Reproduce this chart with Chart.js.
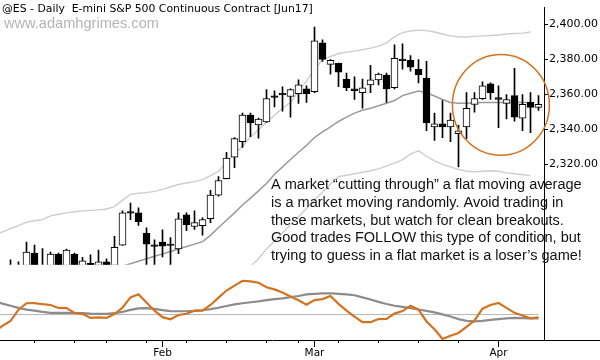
<!DOCTYPE html>
<html>
<head>
<meta charset="utf-8">
<script src="https://cdn.jsdelivr.net/npm/chart.js@4.4.1/dist/chart.umd.min.js"></script>
<style>
  html, body { margin: 0; padding: 0; background: #fff; }
</style>
</head>
<body>
<canvas id="chart" width="600" height="360"></canvas>
<script>
// daily candles, one per session (index 0 = first visible bar)
const opens  = [2258, 2257, 2258, 2269.2, 2262.2, 2259, 2268.6, 2260, 2268.6, 2261.5, 2263.3, 2262, 2264.2, 2262, 2273.7, 2292.4, 2292.2, 2280.4, 2273.4, 2275.4, 2273.9, 2271.5, 2291.0, 2284.4, 2284.9, 2288.8, 2302.3, 2311.8, 2324.1, 2333.0, 2348.1, 2342.5, 2344.2, 2358.7, 2360.1, 2358.8, 2360.4, 2363.2, 2361.6, 2389.5, 2377.2, 2377.8, 2368.8, 2363.2, 2361.0, 2365.5, 2368.3, 2371.1, 2363.8, 2379.7, 2379.5, 2374.4, 2369.4, 2341.4, 2343.1, 2341.4, 2337.5, 2341.4, 2354.3, 2357.6, 2366.1, 2358.2, 2354.9, 2359.3, 2346.4, 2355.4, 2352.6];
const highs  = [2265.3, 2264.2, 2275.4, 2273.7, 2271.7, 2269.8, 2269.2, 2271.4, 2269.2, 2266.7, 2268.1, 2270.9, 2265.9, 2278.7, 2293.3, 2297.8, 2295.0, 2283.6, 2276.7, 2282.5, 2278.0, 2292.2, 2292.2, 2293.3, 2289.4, 2305.1, 2312.9, 2326.9, 2335.3, 2349.3, 2349.3, 2346.5, 2362.7, 2362.1, 2364.3, 2363.2, 2368.3, 2364.9, 2398.5, 2391.2, 2380.0, 2378.0, 2372.2, 2370.0, 2368.8, 2376.7, 2372.2, 2372.2, 2388.4, 2389.0, 2382.3, 2380.0, 2378.9, 2349.3, 2356.5, 2349.3, 2342.5, 2361.0, 2361.0, 2367.2, 2366.6, 2364.9, 2359.9, 2375.0, 2359.9, 2361.0, 2359.3];
const lows   = [2254, 2254, 2255, 2256, 2256, 2256, 2257, 2257, 2258, 2258, 2257, 2258, 2258, 2259, 2273.5, 2288.3, 2285.0, 2258, 2259, 2267, 2261, 2268.8, 2282.0, 2282.7, 2279.4, 2286.6, 2301.7, 2311.6, 2318.0, 2329.7, 2335.8, 2335.0, 2344.0, 2352.9, 2350.4, 2347.0, 2354.9, 2355.4, 2361.0, 2378.9, 2371.6, 2364.4, 2362.1, 2357.1, 2352.1, 2361.0, 2365.5, 2355.4, 2363.2, 2374.4, 2373.3, 2366.6, 2339.2, 2333.6, 2335.3, 2333.0, 2318.5, 2334.7, 2349.8, 2357.1, 2357.1, 2340.9, 2345.9, 2344.7, 2339.2, 2338.1, 2350.9];
const closes = [2260, 2262, 2269.8, 2260, 2259, 2268.6, 2260, 2270.9, 2261, 2264.7, 2260, 2264.2, 2261, 2272.5, 2292.2, 2292.0, 2287.2, 2274.3, 2273.0, 2273.1, 2273.5, 2288.8, 2285.5, 2286.6, 2288.3, 2302.3, 2310.7, 2323.5, 2334.7, 2348.1, 2343.7, 2345.9, 2357.6, 2358.3, 2359.7, 2362.7, 2365.5, 2360.4, 2390.7, 2380.0, 2379.5, 2372.8, 2363.8, 2362.1, 2363.8, 2368.3, 2371.6, 2363.2, 2380.6, 2379.3, 2375.6, 2371.1, 2343.7, 2343.1, 2341.4, 2345.3, 2339.2, 2352.1, 2357.6, 2364.9, 2361.0, 2357.1, 2357.1, 2347.0, 2354.3, 2352.6, 2354.3];

// indicator series start two sessions before the first candle
const lineStart = -2;
const upperBand = [2279.9, 2281.3, 2283.2, 2284.9, 2286.9, 2287.7, 2288.3, 2290.5, 2291.4, 2292.2, 2292.8, 2293.3, 2293.6, 2293.9, 2294.4, 2295.8, 2299.5, 2302.8, 2303.4, 2303.8, 2304.5, 2305.6, 2307.0, 2308.4, 2309.3, 2310.1, 2311.2, 2313.5, 2316.0, 2321.3, 2326.0, 2330.2, 2335.6, 2339.8, 2344.2, 2348.1, 2352.1, 2355.4, 2361.6, 2367.7, 2374.4, 2380.0, 2381.7, 2383.4, 2384.2, 2384.8, 2385.6, 2386.5, 2387.6, 2389.5, 2392.9, 2395.4, 2396.3, 2396.8, 2396.5, 2395.7, 2394.6, 2393.5, 2392.9, 2392.9, 2393.2, 2393.5, 2393.7, 2394.0, 2394.6, 2394.9, 2395.1, 2395.7, null];
const movingAvg = [null, null, null, null, null, null, null, null, null, null, null, null, null, null, null, 2260.3, 2261.7, 2263.1, 2264.5, 2265.9, 2267.3, 2268.7, 2270.1, 2271.5, 2272.9, 2274.3, 2275.7, 2279.3, 2283.8, 2288.0, 2292.2, 2296.7, 2300.6, 2304.8, 2309.0, 2314.3, 2318.5, 2322.7, 2326.9, 2330.8, 2335.3, 2338.6, 2341.4, 2344.5, 2347.0, 2349.3, 2350.9, 2352.1, 2353.5, 2354.9, 2356.5, 2359.3, 2360.7, 2361.9, 2361.0, 2359.1, 2357.1, 2355.4, 2354.9, 2354.9, 2355.1, 2355.4, 2355.4, 2355.4, 2355.4, 2355.4, 2355.4, 2355.4, null];
const lowerBand = [null, null, null, null, null, null, null, null, null, null, null, null, null, null, null, null, null, null, null, null, null, null, null, null, null, null, null, null, null, null, null, 2257.0, 2261.4, 2265.9, 2271.5, 2276.0, 2280.7, 2285.5, 2290.0, 2294.7, 2299.5, 2304.0, 2308.7, 2312.9, 2313.7, 2314.6, 2315.4, 2316.3, 2317.4, 2319.1, 2320.7, 2322.7, 2325.8, 2327.7, 2324.6, 2321.9, 2319.9, 2318.5, 2317.1, 2316.0, 2315.7, 2316.0, 2316.3, 2316.0, 2315.1, 2314.6, 2314.0, 2313.5, null];
const fastOsc = [-8.5, -5.8, -3.3, 2.5, 5.8, 5.9, 5.3, 4.9, 3.4, 3.3, 0.8, 0.4, -1.7, -1.4, -1.7, 0.3, 3.5, 8.8, 10.4, 6.2, 2.0, -1.3, -2.4, -0.2, 0.4, 2.0, 2.0, 4.9, 8.7, 12.3, 14.8, 17.3, 17.0, 16.3, 14.0, 12.9, 11.3, 9.3, 7.3, 5.0, 7.4, 7.9, 9.5, 5.5, 2.0, -1.0, -3.9, -3.9, -2.3, -2.2, 0.5, 1.8, 4.5, 2.5, -3.5, -7.5, -12.5, -10.8, -9.4, -6.3, -3.0, 3.0, 4.9, 5.9, 3.4, 0.9, -0.5, -1.9, -1.4];
const slowOsc = [6.8, 5.6, 4.5, 3.4, 2.5, 2.0, 1.4, 0.9, 0.9, 0.9, 0.8, 0.7, 0.5, 0.4, 0.4, 0.7, 1.4, 2.4, 3.2, 3.3, 2.9, 2.3, 1.8, 1.7, 1.7, 1.9, 2.2, 2.8, 3.5, 4.4, 5.2, 5.8, 6.3, 6.8, 7.4, 7.9, 8.3, 8.9, 9.5, 10.3, 10.6, 10.8, 10.9, 10.6, 10.3, 9.9, 8.8, 7.7, 6.5, 5.4, 4.5, 3.9, 3.3, 2.6, 1.9, 1.1, 0.1, -1.0, -2.3, -3.2, -3.5, -3.2, -2.7, -2.3, -1.9, -1.7, -1.8, -1.9, -1.9];
const zeroLevel = 0;

// axes
const priceTicks = [2320, 2340, 2360, 2380, 2400];
const monthTicks = [19, 38, 61];
const monthLabels = ['Feb', 'Mar', 'Apr'];
const weekTicks = [3, 8, 12, 17, 22, 27, 32, 36, 41, 46, 51, 56];

const titleText = '@ES - Daily  E-mini S&P 500 Continuous Contract [Jun17]';
const siteText = 'www.adamhgrimes.com';
const noteLines = [
    'A market \u201ccutting through\u201d a flat moving average',
    'is a market moving randomly. Avoid trading in',
    'these markets, but watch for clean breakouts.',
    'Good trades FOLLOW this type of condition, but',
    'trying to guess in a flat market is a loser\u2019s game!'
];
// the flat-MA zone that is circled: centre (bar, price) and radii (bars, points)
const circleSpot = [61.3, 2354.0];
const circleRadius = [6.06, 28.8];

const ORANGE = '#d4731f';

const bodies = opens.map((o, i) => ({ x: i, y: [o, closes[i]] }));
const wicks = highs.map((h, i) => ({ x: i, y: [lows[i], h] }));
const bodyColors = opens.map((o, i) => closes[i] > o ? '#ffffff' : '#000000');
const asLine = arr => arr.map((v, i) => ({ x: i + lineStart, y: v }));

function fitFont(ctx, text, family, width) {
    ctx.font = '100px ' + family;
    return 100 * width / ctx.measureText(text).width;
}

const decor = {
    id: 'decor',
    afterDatasetsDraw(chart) {
        const ctx = chart.ctx;
        const x = chart.scales.x;
        const y = chart.scales.y;
        ctx.save();
        // circle round the flat zone
        const cx = x.getPixelForValue(circleSpot[0]);
        const cy = y.getPixelForValue(circleSpot[1]);
        const rx = x.getPixelForValue(circleSpot[0] + circleRadius[0]) - cx;
        const ry = cy - y.getPixelForValue(circleSpot[1] + circleRadius[1]);
        ctx.strokeStyle = ORANGE;
        ctx.lineWidth = 1.5;
        ctx.beginPath();
        ctx.ellipse(cx, cy, rx, ry, 0, 0, Math.PI * 2);
        ctx.stroke();
        ctx.restore();
    },
    afterDraw(chart) {
        const ctx = chart.ctx;
        const area = chart.chartArea;
        const x = chart.scales.x;
        ctx.save();
        // short weekly ticks
        ctx.strokeStyle = '#000';
        ctx.lineWidth = 1;
        ctx.beginPath();
        weekTicks.forEach(v => {
            const px = Math.round(x.getPixelForValue(v) - 0.5) + 0.5;
            ctx.moveTo(px, area.bottom);
            ctx.lineTo(px, area.bottom + 3);
        });
        // baseline runs on under the price scale
        const by = Math.round(area.bottom) + 0.5;
        ctx.moveTo(area.right, by);
        ctx.lineTo(chart.width, by);
        ctx.stroke();

        ctx.textBaseline = 'middle';
        ctx.textAlign = 'left';
        let size = fitFont(ctx, titleText, '"DejaVu Sans"', 311);
        ctx.font = size.toFixed(2) + 'px "DejaVu Sans"';
        ctx.fillStyle = '#000';
        ctx.fillText(titleText, 2, 9);

        size = fitFont(ctx, siteText, '"Liberation Sans"', 155);
        ctx.font = size.toFixed(2) + 'px "Liberation Sans"';
        ctx.fillStyle = '#b4b4b4';
        ctx.fillText(siteText, 4, 23.5);

        size = fitFont(ctx, noteLines[0], '"Liberation Sans"', 311);
        ctx.font = size.toFixed(2) + 'px "Liberation Sans"';
        ctx.fillStyle = '#111';
        noteLines.forEach((line, i) => ctx.fillText(line, 271, 185 + i * 17.75));
        ctx.restore();
    }
};

new Chart(document.getElementById('chart'), {
    type: 'bar',
    data: {
        datasets: [
            {
                type: 'bar', data: bodies, yAxisID: 'y', order: 1,
                backgroundColor: bodyColors, borderColor: '#000', borderWidth: 1,
                borderSkipped: false, barThickness: 7, grouped: false, minBarLength: 1.5
            },
            {
                type: 'bar', data: wicks, yAxisID: 'y', order: 2,
                backgroundColor: '#000', borderWidth: 0, barThickness: 1, grouped: false
            },
            { type: 'line', data: asLine(upperBand), yAxisID: 'y', order: 3, borderColor: '#cdcdcd', borderWidth: 1.4, pointRadius: 0 },
            { type: 'line', data: asLine(movingAvg), yAxisID: 'y', order: 3, borderColor: '#9a9a9a', borderWidth: 1.5, pointRadius: 0 },
            { type: 'line', data: asLine(lowerBand), yAxisID: 'y', order: 3, borderColor: '#cdcdcd', borderWidth: 1.4, pointRadius: 0 },
            {
                type: 'line', yAxisID: 'osc', order: 6, borderColor: '#b4b4b4', borderWidth: 1, pointRadius: 0,
                data: [{ x: lineStart, y: zeroLevel }, { x: opens.length - 1, y: zeroLevel }]
            },
            { type: 'line', data: asLine(slowOsc), yAxisID: 'osc', order: 5, borderColor: '#8c8c8c', borderWidth: 2.2, pointRadius: 0 },
            { type: 'line', data: asLine(fastOsc), yAxisID: 'osc', order: 4, borderColor: ORANGE, borderWidth: 2.2, pointRadius: 0 }
        ]
    },
    options: {
        responsive: false,
        animation: false,
        layout: { padding: 0 },
        plugins: { legend: { display: false }, tooltip: { enabled: false } },
        scales: {
            x: {
                type: 'linear', position: 'bottom', offset: false,
                min: -1.3125, max: 66.6875,
                grid: { drawOnChartArea: false, tickLength: 7, tickColor: '#000', offset: false },
                border: { color: '#000' },
                afterBuildTicks: s => { s.ticks = monthTicks.map(v => ({ value: v })); },
                afterFit: s => { s.height = 20; },
                ticks: {
                    callback: (v, i) => monthLabels[i],
                    autoSkip: false, maxRotation: 0, padding: 0,
                    color: '#000', font: { family: '"DejaVu Sans"', size: 10.5 }
                }
            },
            y: {
                type: 'linear', position: 'right', stack: 'right', stackWeight: 263,
                min: 2262.5, max: 2409.7,
                grid: { drawOnChartArea: false, tickLength: 4, tickColor: '#000' },
                border: { color: '#000' },
                afterBuildTicks: s => { s.ticks = priceTicks.map(v => ({ value: v })); },
                afterFit: s => { s.width = 56; },
                ticks: {
                    callback: v => v.toLocaleString('en-US', { minimumFractionDigits: 2, maximumFractionDigits: 2 }),
                    padding: 1, color: '#000', font: { family: '"DejaVu Sans"', size: 11 }
                }
            },
            osc: {
                type: 'linear', position: 'right', stack: 'right', stackWeight: 77,
                min: -13, max: 25.5,
                grid: { drawOnChartArea: false, drawTicks: false },
                border: { color: '#000' },
                afterFit: s => { s.width = 56; },
                ticks: { display: false }
            }
        }
    },
    plugins: [decor]
});
</script>
</body>
</html>
